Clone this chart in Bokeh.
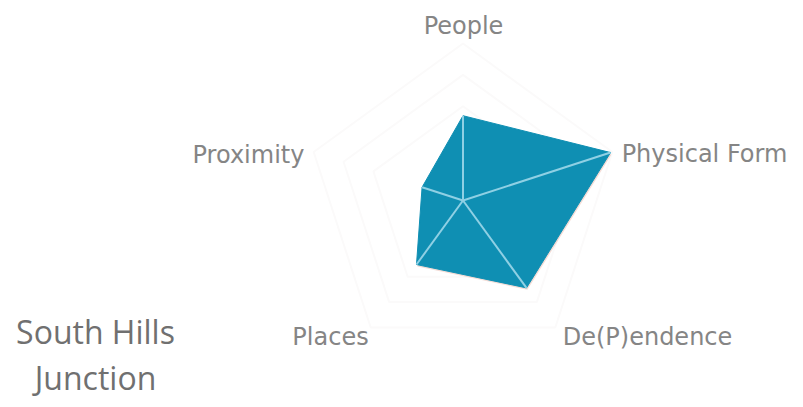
import numpy as np
from bokeh.plotting import figure
from bokeh.models import Range1d, Label
from bokeh.embed import file_html
from bokeh.resources import INLINE

categories = ["People", "Physical Form", "De(P)endence", "Places", "Proximity"]
values = [2.7, 4.94, 3.44, 2.52, 1.37]
grid_levels = [3, 4, 5]
title_lines = ["South Hills", "Junction"]

W, H = 795, 399
PX = 31.4
CX, CY = 462.5, 200.0

p = figure(width=W, height=H, output_backend="svg", toolbar_location=None,
           x_range=Range1d(-CX / PX, (W - CX) / PX),
           y_range=Range1d(-(H - CY) / PX, CY / PX),
           min_border=0, outline_line_color=None)
p.axis.visible = False
p.grid.visible = False
p.background_fill_color = "white"
p.border_fill_color = "white"

theta = np.pi / 2 - np.arange(len(categories)) * 2 * np.pi / len(categories)
ux, uy = np.cos(theta), np.sin(theta)
vals = np.array(values)

for lv in grid_levels:
    p.patch(lv * ux, lv * uy, fill_color=None, line_color="#fbfafa", line_width=2)

p.patch(vals * ux + 0.03, vals * uy - 0.06, fill_color="#e8b9ae", fill_alpha=0.5, line_color=None)
p.patch(vals * ux, vals * uy, fill_color="#0f8fb3", line_color="#0f8fb3", line_width=1)
for x, y in zip(vals * ux, vals * uy):
    p.line([0, x], [0, y], line_color="#8fd0e4", line_width=2)

FONT = "DejaVu Sans"
COL = "#858585"
label_pos = [(463, 25), (704, 153), (647, 336), (330, 336), (248, 154)]
for txt, (x, y) in zip(categories, label_pos):
    p.add_layout(Label(x=x, y=H - y, x_units="screen", y_units="screen", text=txt,
                       text_font=FONT, text_font_size="24px", text_font_style="normal",
                       text_color=COL, text_align="center", text_baseline="middle"))
for txt, (x, y) in zip(title_lines, [(95, 331), (95, 377)]):
    p.add_layout(Label(x=x, y=H - y, x_units="screen", y_units="screen", text=txt,
                       text_font="Open Sans", text_font_size="32px",
                       text_color="#707070", text_align="center", text_baseline="middle"))

open("out.html", "w").write(file_html(p, INLINE))
